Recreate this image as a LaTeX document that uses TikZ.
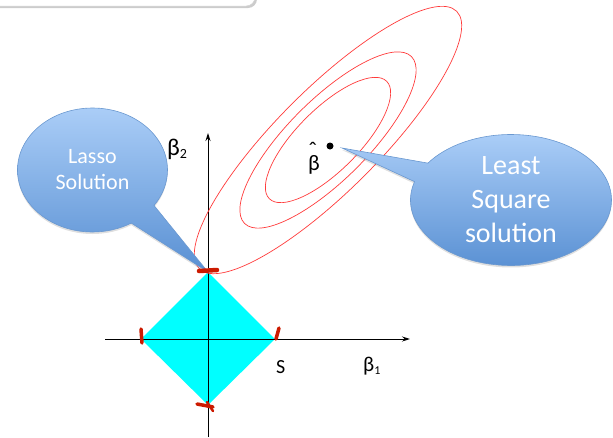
\documentclass[tikz,border=0pt]{standalone}
\usepackage{fontspec}
\setmainfont{Carlito}
\usetikzlibrary{arrows.meta,shapes.callouts,shadows}
\definecolor{bubbletop}{HTML}{AACDF7}
\definecolor{bubblebottom}{HTML}{5990D3}
\definecolor{bubbleline}{HTML}{6A98D0}
\definecolor{blobred}{HTML}{CC1A00}
\definecolor{contour}{HTML}{FF3A3A}
\definecolor{ballcyan}{HTML}{00FFFF}

\begin{document}
\begin{tikzpicture}[x=1pt, y=-1pt,
    axis/.style={line width=0.9pt, -{Stealth[length=8pt, width=5pt]}},
    contourline/.style={contour, line width=0.7pt},
    blob/.style={blobred, line width=4.5pt, line cap=round},
    bubble/.style={ellipse callout, draw=bubbleline, line width=0.6pt,
        top color=bubbletop, bottom color=bubblebottom, text=white,
        align=center, inner sep=0pt,
        drop shadow={shadow xshift=0pt, shadow yshift=-2pt, opacity=0.25}}]
    \useasboundingbox (0,0) rectangle (613,437);

    % --- Caja superior ---
    \draw[gray!35, fill=white, rounded corners=9pt,
        drop shadow={shadow xshift=2pt, shadow yshift=-2pt, opacity=0.4}]
        (-20,-20) rectangle (255,6);

    % --- Bola L1 (rombo) ---
    \coordinate (top) at (208,272);
    \coordinate (right) at (275,339);
    \coordinate (bottom) at (208,405);
    \coordinate (left) at (141,339);
    \fill[ballcyan] (top) -- (right) -- (bottom) -- (left) -- cycle;

    % --- Ejes ---
    \draw[axis] (105,339) -- (410,339);
    \draw[axis] (208,437) -- (208,133);
    \node[font=\fontsize{21}{21}\selectfont, anchor=base west, inner sep=0pt] (b1) at (363,371)
        {β\raisebox{-3pt}{\fontsize{12}{12}\selectfont 1}};
    \node[font=\fontsize{24}{24}\selectfont, anchor=base west, inner sep=0pt] (b2) at (167,155)
        {β\raisebox{-3pt}{\fontsize{14}{14}\selectfont 2}};
    \node[font=\fontsize{20}{20}\selectfont, anchor=base west, inner sep=0pt] (s) at (276,373) {S};

    % --- Curvas de nivel ---
    \coordinate (center) at (328,140);
    \foreach \a/\b in {83/31, 118/40, 182/51}
        \draw[contourline, rotate around={45:(center)}] (center) ellipse [x radius=\a, y radius=\b];

    % Estimador de minimos cuadrados
    \coordinate (dot) at (330,146);
    \fill (dot) circle (3.5);
    \node[font=\fontsize{22}{22}\selectfont, anchor=base west, inner sep=0pt] (betahat) at (308,170)
        {\rlap{\raisebox{12pt}{\fontsize{24}{24}\selectfont ˆ}}β};

    % --- Globos ---
    \coordinate (lstip) at (342,148);
    \node[bubble, minimum width=150pt, minimum height=124pt,
        callout absolute pointer={(top)}, callout pointer arc=24,
        font=\fontsize{22}{26}\selectfont] (lasso) at (92.5,170) {Lasso\\Solution};
    \node[bubble, minimum width=201pt, minimum height=131pt,
        callout absolute pointer={(lstip)}, callout pointer arc=18,
        font=\fontsize{28}{34}\selectfont] (lsq) at (511,200) {Least\\Square\\solution};

    % --- Puntos de contacto ---
    \draw[blob] (199,271) -- (217,270);
    \draw[blob, line width=3.5pt] (141,329) -- (142,343);
    \draw[blob, line width=3.5pt] (276,339) -- (279,328);
    \draw[blob, line width=3.5pt] (197,404) -- (213,407);
    \draw[blob, line width=2.5pt] (207,402) -- (213,411);
\end{tikzpicture}
\end{document}
